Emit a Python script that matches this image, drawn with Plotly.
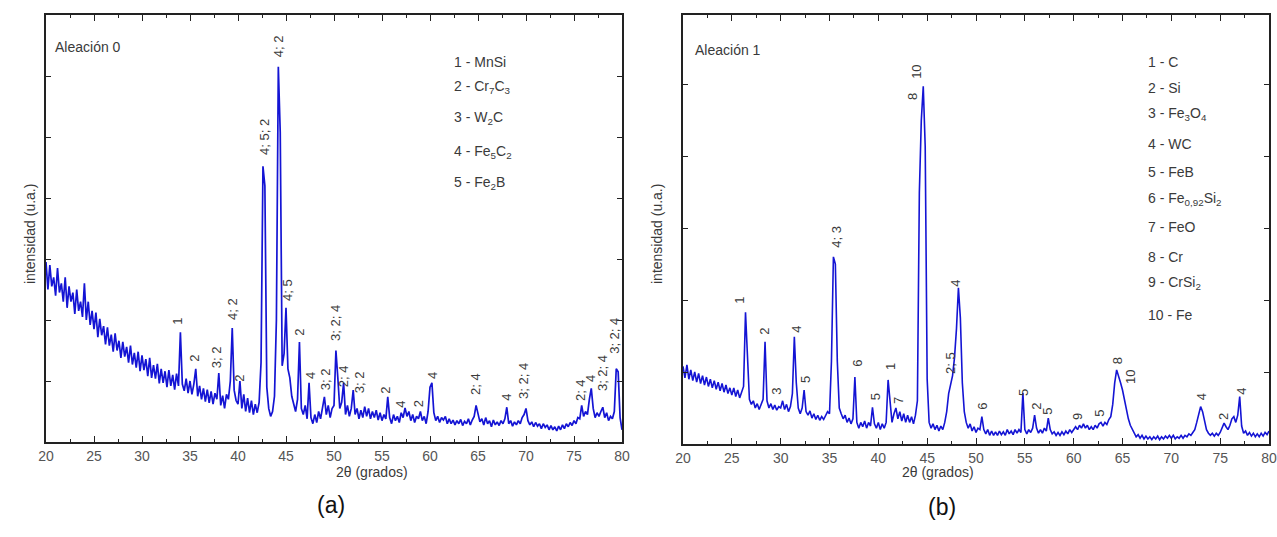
import plotly.graph_objects as go

# ---------------- data ----------------
# 2-theta sampling: 20.0 .. 80.0 every 0.2 degree
theta_start, theta_step, n_pts = 20.0, 0.2, 301
two_theta = [round(theta_start + theta_step * i, 1) for i in range(n_pts)]

# Aleación 0 intensity (arbitrary units)
y_alloy0 = (
    [2.95, 2.5, 2.9, 2.55, 2.7, 2.4, 2.85, 2.45, 2.6, 2.3, 2.7, 2.2, 2.55, 2.3, 2.45, 2.1, 2.5, 2.15, 2.3, 2.05, 2.6, 2.0, 2.3, 1.92, 2.15]
    + [1.85, 2.12, 1.72, 2.02, 1.75, 1.9, 1.6, 1.88, 1.58, 1.76, 1.48, 1.78, 1.5, 1.66, 1.38, 1.64, 1.4, 1.56, 1.3, 1.58, 1.27, 1.46, 1.22, 1.48, 1.16]
    + [1.42, 1.18, 1.36, 1.08, 1.38, 1.05, 1.26, 1.04, 1.28, 0.96, 1.2, 0.97, 1.16, 0.9, 1.18, 0.92, 1.1, 0.86, 1.12, 0.92, 1.8, 0.95, 0.84, 1.04, 0.8]
    + [1.0, 0.78, 0.95, 1.2, 0.75, 0.92, 0.7, 0.88, 0.66, 0.86, 0.64, 0.83, 0.62, 0.8, 0.7, 1.13, 0.6, 0.76, 0.55, 0.78, 0.7, 1.0, 1.87, 0.85, 0.68]
    + [0.62, 1.0, 0.55, 0.78, 0.5, 0.72, 0.48, 0.68, 0.45, 0.62, 0.48, 0.65, 1.3, 4.52, 4.2, 0.9, 0.55, 0.42, 0.5, 0.75, 2.0, 6.15, 5.08, 1.25, 1.45]
    + [2.2, 1.2, 1.05, 0.75, 0.6, 0.5, 0.7, 1.64, 0.55, 0.45, 0.6, 0.38, 0.97, 0.4, 0.3, 0.45, 0.32, 0.5, 0.38, 0.55, 0.74, 0.45, 0.6, 0.4, 0.55]
    + [0.6, 1.5, 1.05, 0.55, 0.65, 0.97, 0.45, 0.6, 0.42, 0.55, 0.85, 0.45, 0.55, 0.38, 0.52, 0.4, 0.58, 0.42, 0.55, 0.38, 0.5, 0.4, 0.52, 0.36, 0.48]
    + [0.35, 0.45, 0.38, 0.74, 0.4, 0.3, 0.45, 0.35, 0.42, 0.32, 0.48, 0.4, 0.56, 0.42, 0.5, 0.35, 0.45, 0.32, 0.42, 0.38, 0.5, 0.35, 0.42, 0.3, 0.5]
    + [0.9, 0.97, 0.48, 0.35, 0.42, 0.32, 0.4, 0.36, 0.42, 0.3, 0.38, 0.3, 0.36, 0.28, 0.35, 0.3, 0.37, 0.27, 0.34, 0.3, 0.38, 0.28, 0.36, 0.42, 0.6]
    + [0.45, 0.33, 0.38, 0.28, 0.4, 0.3, 0.35, 0.25, 0.36, 0.28, 0.33, 0.27, 0.35, 0.3, 0.38, 0.57, 0.3, 0.35, 0.26, 0.33, 0.28, 0.35, 0.3, 0.4, 0.45]
    + [0.55, 0.35, 0.28, 0.33, 0.25, 0.32, 0.26, 0.3, 0.22, 0.3, 0.24, 0.28, 0.2, 0.27, 0.2, 0.25, 0.18, 0.26, 0.2, 0.28, 0.22, 0.3, 0.25, 0.32, 0.27]
    + [0.35, 0.3, 0.4, 0.38, 0.6, 0.42, 0.5, 0.45, 0.7, 0.88, 0.55, 0.4, 0.48, 0.42, 0.5, 0.57, 0.4, 0.48, 0.35, 0.42, 0.38, 0.5, 1.2, 1.15, 0.4]
    + [0.2]
)

# Aleación 1 intensity (arbitrary units)
y_alloy1 = (
    [1.08, 0.92, 1.1, 0.9, 1.03, 0.88, 1.0, 0.86, 0.98, 0.84, 0.95, 0.82, 0.93, 0.8, 0.9, 0.78, 0.88, 0.76, 0.86, 0.74, 0.84, 0.72, 0.82, 0.7, 0.78]
    + [0.68, 0.78, 0.66, 0.75, 0.64, 0.72, 0.8, 1.83, 1.2, 0.62, 0.55, 0.6, 0.5, 0.56, 0.48, 0.55, 0.62, 1.42, 0.6, 0.5, 0.56, 0.48, 0.54, 0.47, 0.52]
    + [0.5, 0.6, 0.48, 0.55, 0.45, 0.52, 0.7, 1.49, 0.85, 0.5, 0.42, 0.5, 0.75, 0.45, 0.4, 0.46, 0.36, 0.42, 0.34, 0.4, 0.33, 0.38, 0.34, 0.4, 0.45]
    + [0.42, 1.15, 2.6, 2.5, 1.15, 0.5, 0.42, 0.35, 0.4, 0.3, 0.36, 0.28, 0.35, 0.93, 0.3, 0.22, 0.3, 0.24, 0.32, 0.22, 0.3, 0.25, 0.51, 0.28, 0.22]
    + [0.3, 0.2, 0.28, 0.22, 0.3, 0.89, 0.6, 0.3, 0.42, 0.5, 0.35, 0.45, 0.32, 0.42, 0.3, 0.4, 0.3, 0.38, 0.28, 0.4, 0.6, 3.49, 4.5, 4.97, 4.13]
    + [0.9, 0.3, 0.22, 0.28, 0.2, 0.26, 0.18, 0.25, 0.2, 0.3, 0.45, 0.7, 0.85, 0.95, 1.2, 1.6, 2.17, 1.75, 0.85, 0.45, 0.3, 0.22, 0.28, 0.18, 0.24]
    + [0.16, 0.22, 0.2, 0.38, 0.2, 0.14, 0.2, 0.12, 0.18, 0.12, 0.17, 0.12, 0.18, 0.13, 0.17, 0.12, 0.2, 0.14, 0.18, 0.13, 0.2, 0.15, 0.2, 0.16, 0.71]
    + [0.2, 0.14, 0.2, 0.16, 0.22, 0.4, 0.22, 0.15, 0.2, 0.15, 0.22, 0.18, 0.36, 0.2, 0.14, 0.17, 0.12, 0.16, 0.12, 0.17, 0.13, 0.18, 0.14, 0.2, 0.16]
    + [0.2, 0.24, 0.2, 0.26, 0.22, 0.28, 0.22, 0.26, 0.2, 0.24, 0.2, 0.26, 0.22, 0.28, 0.3, 0.25, 0.3, 0.27, 0.34, 0.38, 0.55, 0.85, 1.03, 0.95, 0.85]
    + [0.75, 0.62, 0.45, 0.35, 0.26, 0.2, 0.14, 0.1, 0.13, 0.08, 0.12, 0.07, 0.11, 0.07, 0.1, 0.06, 0.1, 0.07, 0.11, 0.06, 0.1, 0.07, 0.11, 0.08, 0.12]
    + [0.08, 0.12, 0.07, 0.1, 0.08, 0.12, 0.08, 0.12, 0.1, 0.14, 0.12, 0.16, 0.2, 0.3, 0.42, 0.52, 0.45, 0.3, 0.2, 0.15, 0.12, 0.15, 0.11, 0.15, 0.12]
    + [0.16, 0.22, 0.29, 0.24, 0.2, 0.26, 0.35, 0.38, 0.3, 0.4, 0.66, 0.25, 0.15, 0.18, 0.12, 0.16, 0.11, 0.15, 0.1, 0.14, 0.1, 0.15, 0.11, 0.16, 0.13]
    + [0.18]
)
assert len(y_alloy0) == n_pts and len(y_alloy1) == n_pts

# peak labels: (2theta, intensity, text)
peaks0_x = [33.75, 35.52, 37.71, 39.38, 40.2, 42.71, 44.17, 45.1, 46.46, 47.5, 49.06, 50.1, 50.94,
            52.6, 55.42, 56.98, 58.75, 60.31, 64.69, 68.02, 69.69, 75.62, 76.77, 77.92, 79.27]
peaks0_y = [1.97, 1.38, 1.39, 2.18, 1.05, 5.0, 6.49, 2.49, 1.79, 1.08, 1.03, 1.95, 1.08,
            0.98, 0.84, 0.61, 0.62, 1.1, 0.95, 0.74, 1.0, 0.85, 1.05, 1.13, 1.74]
peaks0_txt = ["1", "2", "3; 2", "4; 2", "2", "4; 5; 2", "4; 2", "4; 5", "2", "4", "3; 2", "3; 2; 4", "2; 4",
              "3; 2", "2", "4", "2", "4", "2; 4", "4", "3; 2; 4", "2; 4", "4", "3; 2; 4", "3; 2; 4"]

peaks1_x = [25.84, 28.4, 29.62, 31.67, 32.6, 35.77, 37.8, 39.66, 41.3, 42.0, 43.45, 43.96, 47.34,
            47.95, 50.7, 54.8, 56.24, 57.37, 60.44, 62.7, 64.44, 65.77, 73.04, 75.29, 77.23]
peaks1_y = [1.99, 1.56, 0.74, 1.6, 0.89, 2.88, 1.125, 0.65, 1.07, 0.61, 4.82, 5.17, 1.125,
            2.24, 0.53, 0.72, 0.53, 0.46, 0.39, 0.42, 1.15, 0.93, 0.65, 0.375, 0.74]
peaks1_txt = ["1", "2", "3", "4", "5", "4; 3", "6", "5", "1", "7", "8", "10", "2; 5",
              "4", "6", "5", "2", "5", "9", "5", "8", "10", "4", "2", "4"]

phases0 = ["1 - MnSi", "2 - Cr<sub>7</sub>C<sub>3</sub>", "3 - W<sub>2</sub>C",
           "4 - Fe<sub>5</sub>C<sub>2</sub>", "5 - Fe<sub>2</sub>B"]
phases0_y = [6.23, 5.82, 5.31, 4.75, 4.25]
phases1 = ["1 - C", "2 - Si", "3 - Fe<sub>3</sub>O<sub>4</sub>", "4 - WC", "5 - FeB",
           "6 - Fe<sub>0,92</sub>Si<sub>2</sub>", "7 - FeO", "8 - Cr", "9 - CrSi<sub>2</sub>", "10 - Fe"]
phases1_y = [5.31, 4.94, 4.58, 4.17, 3.78, 3.40, 3.01, 2.60, 2.24, 1.79]

x_ticks = [20, 25, 30, 35, 40, 45, 50, 55, 60, 65, 70, 75, 80]

# ---------------- figure ----------------
FONT = "Liberation Sans, Arial, sans-serif"
BLUE = "#1414d4"
TXT = "#3a3a3a"
W, H = 1277, 537

fig = go.Figure()
fig.add_trace(go.Scatter(x=two_theta, y=y_alloy0, mode="lines", line=dict(color=BLUE, width=1.7),
                         xaxis="x", yaxis="y", showlegend=False, hoverinfo="skip"))
fig.add_trace(go.Scatter(x=two_theta, y=y_alloy1, mode="lines", line=dict(color=BLUE, width=1.6),
                         xaxis="x2", yaxis="y2", showlegend=False, hoverinfo="skip"))


def xax(domain, anchor):
    return dict(domain=domain, anchor=anchor, range=[20, 80], tickvals=x_ticks, automargin=False,
                ticks="inside", ticklen=6, tickcolor="#222", tickwidth=1,
                minor=dict(dtick=2.5, tick0=20, ticks="inside", ticklen=3, tickcolor="#222"),
                showline=True, linecolor="#222", linewidth=1.5, mirror="ticks",
                showgrid=False, zeroline=False,
                tickfont=dict(family=FONT, size=14, color="#555"))


def yax(domain, anchor, top):
    return dict(domain=domain, anchor=anchor, range=[0, top], dtick=1, automargin=False,
                ticks="inside", ticklen=5, tickcolor="#222", showticklabels=False,
                showline=True, linecolor="#222", linewidth=1.5, mirror="ticks",
                showgrid=False, zeroline=False)


fig.update_layout(
    width=W, height=H, margin=dict(l=0, r=0, t=0, b=0, pad=0),
    paper_bgcolor="white", plot_bgcolor="white",
    xaxis=xax([46 / W, 622 / W], "y"),
    yaxis=yax([1 - 442 / H, 1 - 15 / H], "x", 7.0),
    xaxis2=xax([683 / W, 1269 / W], "y2"),
    yaxis2=yax([1 - 444 / H, 1 - 15 / H], "x2", 5.96),
)

ann = []
for x, y, t in zip(peaks0_x, peaks0_y, peaks0_txt):
    ann.append(dict(x=x, y=y, xref="x", yref="y", text=t, textangle=-90, showarrow=False,
                    font=dict(family=FONT, size=13, color=TXT)))
for x, y, t in zip(peaks1_x, peaks1_y, peaks1_txt):
    ann.append(dict(x=x, y=y, xref="x2", yref="y2", text=t, textangle=-90, showarrow=False,
                    font=dict(family=FONT, size=13, color=TXT)))
for t, y in zip(phases0, phases0_y):
    ann.append(dict(x=62.3, y=y, xref="x", yref="y", text=t, showarrow=False, xanchor="left",
                    font=dict(family=FONT, size=14, color=TXT)))
for t, y in zip(phases1, phases1_y):
    ann.append(dict(x=67.4, y=y, xref="x2", yref="y2", text=t, showarrow=False, xanchor="left",
                    font=dict(family=FONT, size=14, color=TXT)))

ann.append(dict(x=20.75, y=6.48, xref="x", yref="y", text="Aleación 0", showarrow=False,
                xanchor="left", font=dict(family=FONT, size=14, color=TXT)))
ann.append(dict(x=21.0, y=5.47, xref="x2", yref="y2", text="Aleación 1", showarrow=False,
                xanchor="left", font=dict(family=FONT, size=14, color=TXT)))

for px in (334, 976):
    ann.append(dict(x=px / W, y=1 - 482 / H, xref="paper", yref="paper", text="2θ (grados)",
                    showarrow=False, font=dict(family=FONT, size=14, color=TXT)))
for px in (20, 657):
    ann.append(dict(x=px / W, y=1 - 234 / H, xref="paper", yref="paper", text="intensidad (u.a.)",
                    textangle=-90, showarrow=False, font=dict(family=FONT, size=14, color=TXT)))
ann.append(dict(x=315 / W, y=1 - 520 / H, xref="paper", yref="paper", text="(a)", showarrow=False,
                font=dict(family=FONT, size=23, color="#111")))
ann.append(dict(x=958 / W, y=1 - 522 / H, xref="paper", yref="paper", text="(b)", showarrow=False,
                font=dict(family=FONT, size=23, color="#111")))

fig.update_layout(annotations=ann)
fig.write_html("out.html", config={"displayModeBar": False},
               post_script="document.body.style.margin='0px';document.body.style.overflow='hidden';")
